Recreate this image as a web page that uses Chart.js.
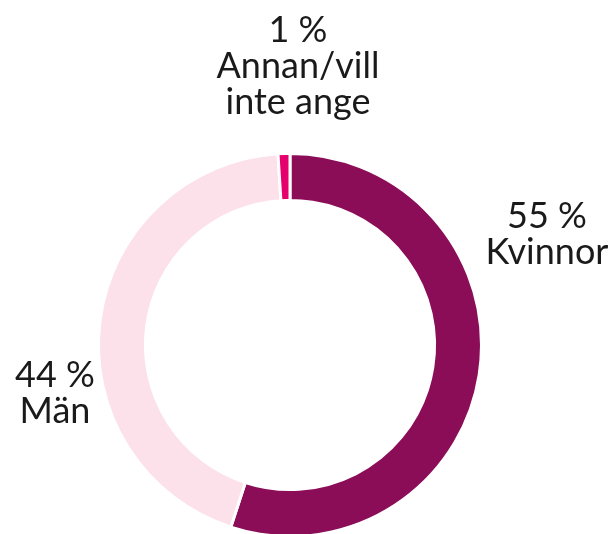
<!DOCTYPE html>
<html>
<head>
<meta charset="utf-8">
<script src="https://cdn.jsdelivr.net/npm/chart.js@4/dist/chart.umd.min.js"></script>
<style>
	html, body { margin: 0; padding: 0; background: #fff; }
	#wrap { width: 612px; height: 534px; overflow: hidden; position: relative; }
	#wrap canvas { display: block; }
</style>
</head>
<body>
<div id="wrap"><canvas id="chart" width="612" height="560"></canvas></div>
<script>
const labels = ["Kvinnor", "Män", "Annan/vill inte ange"];
const shares = [55, 44, 1];
const labelLines = [["55 %", "Kvinnor"], ["44 %", "Män"], ["1 %", "Annan/vill", "inte ange"]];
const colors = ["#8b0c57", "#fce1eb", "#e5006e"];

// where each label block sits, relative to the doughnut centre (first line baseline)
const labelOffsets = [[257, -117], [-235, 42], [8, -303]];

const outsideLabels = {
	id: "outsideLabels",
	afterDraw: (chart) => {
		const ctx = chart.ctx;
		const arc = chart.getDatasetMeta(0).data[0];
		ctx.save();
		ctx.fillStyle = "#1a1a1a";
		ctx.font = "400 36px Lato";
		ctx.textAlign = "center";
		ctx.textBaseline = "alphabetic";
		labelLines.forEach((lines, i) => {
			const [dx, dy] = labelOffsets[i];
			lines.forEach((line, j) => {
				ctx.fillText(line, arc.x + dx, arc.y + dy + j * 36);
			});
		});
		ctx.restore();
	},
};

const ctx = document.getElementById("chart").getContext("2d");

window.chart = new Chart(ctx, {
	type: "doughnut",
	data: {
		labels,
		datasets: [
			{
				data: shares,
				backgroundColor: colors,
				borderColor: "#ffffff",
				borderWidth: 3,
			},
		],
	},
	options: {
		responsive: false,
		animation: false,
		cutout: "75.5%",
		layout: {
			padding: { left: 97, right: 129, top: 152, bottom: 22 },
		},
		plugins: {
			legend: { display: false },
			tooltip: { enabled: false },
		},
		events: [],
	},
	plugins: [outsideLabels],
});
</script>
</body>
</html>
